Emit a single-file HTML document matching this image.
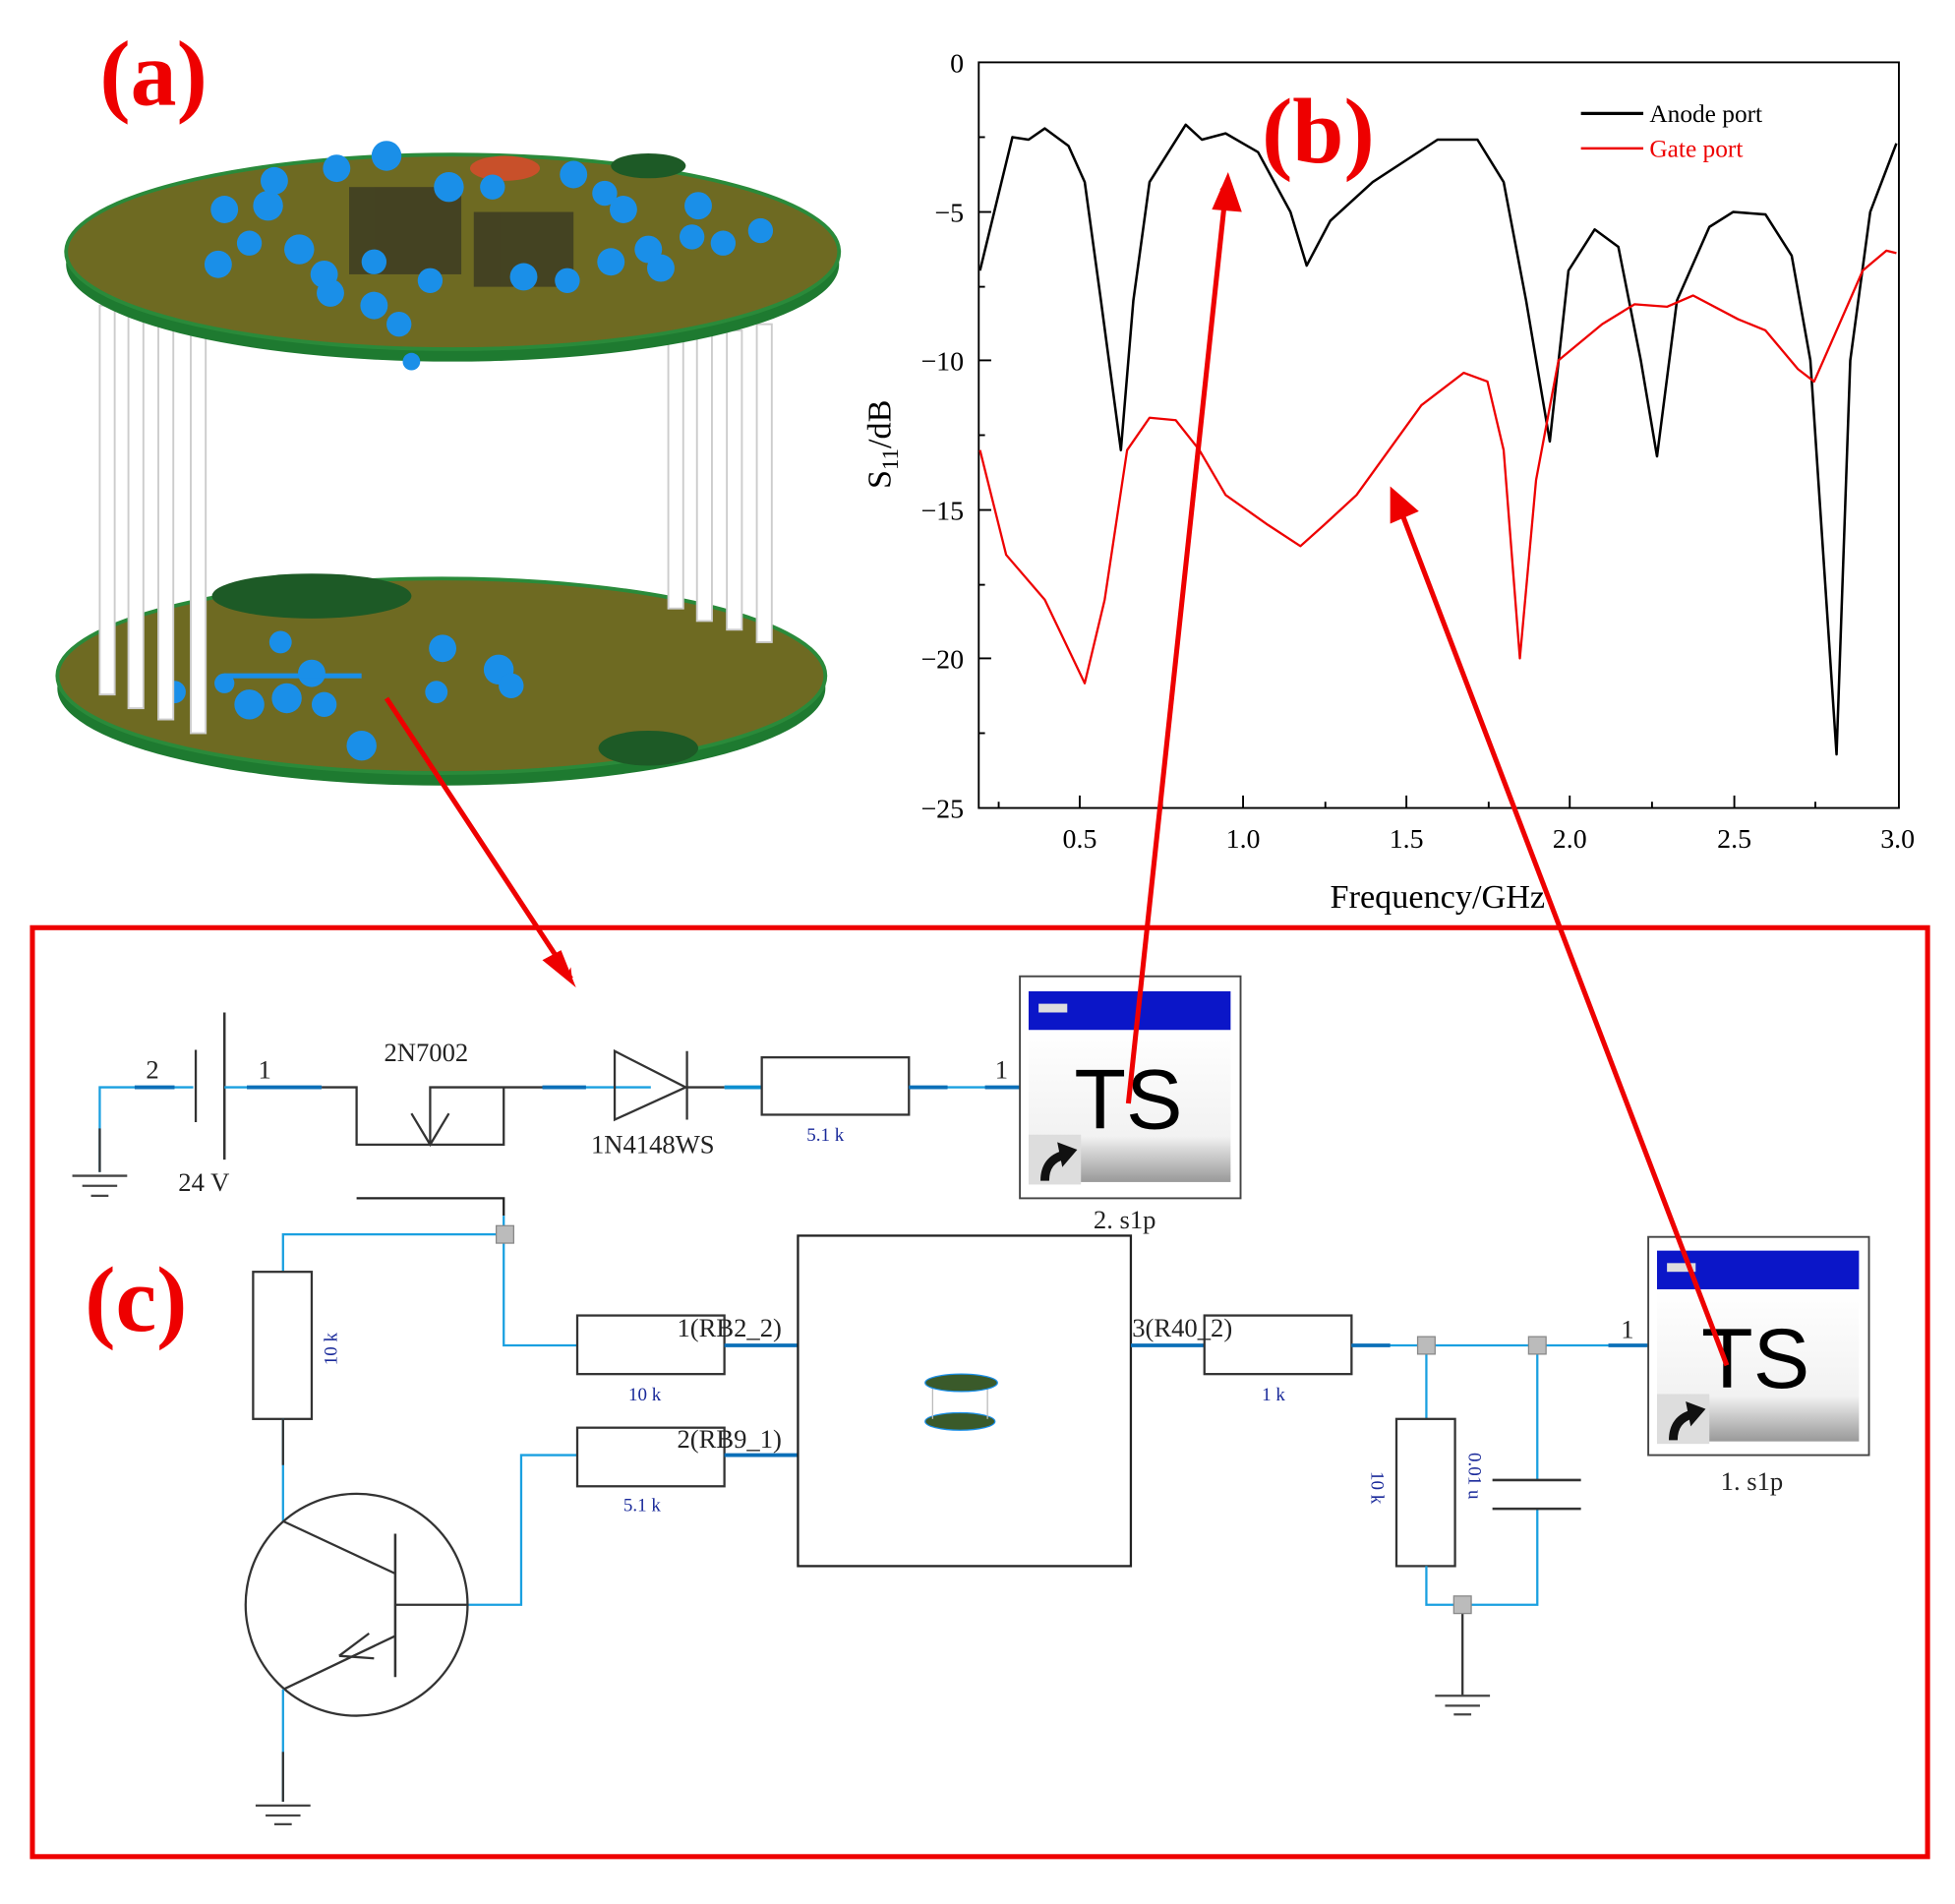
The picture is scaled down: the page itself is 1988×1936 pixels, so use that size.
<!DOCTYPE html>
<html><head><meta charset="utf-8"><style>
html,body{margin:0;padding:0;background:#fff}
svg{display:block}
text{font-family:"Liberation Serif",serif}
</style></head><body>
<svg width="1988" height="1936" viewBox="0 0 1568 1527" preserveAspectRatio="none" xmlns="http://www.w3.org/2000/svg">
<defs>
<linearGradient id="tsg" x1="0" y1="0" x2="0" y2="1"><stop offset="0" stop-color="#fff"/><stop offset="0.7" stop-color="#f2f2f2"/><stop offset="1" stop-color="#999"/></linearGradient>
<marker id="ah" markerWidth="10" markerHeight="10" refX="8" refY="5" orient="auto" markerUnits="userSpaceOnUse" viewBox="0 0 10 10"><path d="M0,0 L10,5 L0,10 L3,5 Z" fill="#e00"/></marker>
</defs>
<rect width="1568" height="1527" fill="#fff"/>
<!-- (a) PCB -->
<text x="80" y="84" font-size="74" font-weight="bold" fill="#e00">(a)</text>
<!-- bottom board -->
<ellipse cx="354" cy="552" rx="308" ry="78" fill="#1e7a30"/>
<ellipse cx="354" cy="542" rx="308" ry="78" fill="#6e6a22" stroke="#2a8a3a" stroke-width="3"/>
<ellipse cx="250" cy="478" rx="80" ry="18" fill="#1d5a26"/>
<ellipse cx="520" cy="600" rx="40" ry="14" fill="#1d5a26"/>
<g fill="#1a8fe8">
<circle cx="225" cy="515" r="9"/><circle cx="250" cy="540" r="11"/><circle cx="200" cy="565" r="12"/><circle cx="230" cy="560" r="12"/><circle cx="260" cy="565" r="10"/><circle cx="355" cy="520" r="11"/><circle cx="400" cy="537" r="12"/><circle cx="410" cy="550" r="10"/><circle cx="350" cy="555" r="9"/><circle cx="290" cy="598" r="12"/><circle cx="180" cy="548" r="8"/><circle cx="140" cy="555" r="9"/>
<rect x="180" y="540" width="110" height="4"/>
</g>
<!-- pillars -->
<g fill="#fff" stroke="#ccc" stroke-width="1.5">
<rect x="80" y="245" width="12" height="312"/><rect x="103" y="250" width="12" height="318"/><rect x="127" y="255" width="12" height="322"/><rect x="153" y="260" width="12" height="328"/>
<rect x="536" y="270" width="12" height="218"/><rect x="559" y="268" width="12" height="230"/><rect x="583" y="265" width="12" height="240"/><rect x="607" y="260" width="12" height="255"/>
</g>
<!-- top board -->
<ellipse cx="363" cy="212" rx="310" ry="78" fill="#1e7a30"/>
<ellipse cx="363" cy="202" rx="310" ry="78" fill="#6e6a22" stroke="#2a8a3a" stroke-width="3"/>
<ellipse cx="405" cy="135" rx="28" ry="10" fill="#c8502a"/>
<ellipse cx="520" cy="133" rx="30" ry="10" fill="#1d5a26"/>
<g fill="#222" opacity="0.55"><rect x="280" y="150" width="90" height="70"/><rect x="380" y="170" width="80" height="60"/></g>
<g fill="#1a8fe8">
<circle cx="270" cy="135" r="11"/><circle cx="310" cy="125" r="12"/><circle cx="220" cy="145" r="11"/><circle cx="215" cy="165" r="12"/><circle cx="180" cy="168" r="11"/><circle cx="200" cy="195" r="10"/><circle cx="175" cy="212" r="11"/><circle cx="240" cy="200" r="12"/><circle cx="260" cy="220" r="11"/><circle cx="265" cy="235" r="11"/><circle cx="300" cy="210" r="10"/><circle cx="300" cy="245" r="11"/><circle cx="320" cy="260" r="10"/><circle cx="345" cy="225" r="10"/><circle cx="360" cy="150" r="12"/><circle cx="395" cy="150" r="10"/><circle cx="460" cy="140" r="11"/><circle cx="485" cy="155" r="10"/><circle cx="500" cy="168" r="11"/><circle cx="560" cy="165" r="11"/><circle cx="555" cy="190" r="10"/><circle cx="580" cy="195" r="10"/><circle cx="610" cy="185" r="10"/><circle cx="520" cy="200" r="11"/><circle cx="490" cy="210" r="11"/><circle cx="530" cy="215" r="11"/><circle cx="420" cy="222" r="11"/><circle cx="455" cy="225" r="10"/><circle cx="330" cy="290" r="7"/>
</g>
<!-- (b) chart -->
<rect x="785" y="50" width="738" height="598" fill="none" stroke="#000" stroke-width="1.5"/>
<g stroke="#000" stroke-width="1.5">
<line x1="785" y1="170" x2="795" y2="170"/><line x1="785" y1="289" x2="795" y2="289"/><line x1="785" y1="409" x2="795" y2="409"/><line x1="785" y1="528" x2="795" y2="528"/>
<line x1="785" y1="110" x2="790" y2="110"/><line x1="785" y1="230" x2="790" y2="230"/><line x1="785" y1="349" x2="790" y2="349"/><line x1="785" y1="469" x2="790" y2="469"/><line x1="785" y1="588" x2="790" y2="588"/>
<line x1="866" y1="648" x2="866" y2="638"/><line x1="997" y1="648" x2="997" y2="638"/><line x1="1128" y1="648" x2="1128" y2="638"/><line x1="1259" y1="648" x2="1259" y2="638"/><line x1="1391" y1="648" x2="1391" y2="638"/>
<line x1="801" y1="648" x2="801" y2="643"/><line x1="932" y1="648" x2="932" y2="643"/><line x1="1063" y1="648" x2="1063" y2="643"/><line x1="1194" y1="648" x2="1194" y2="643"/><line x1="1325" y1="648" x2="1325" y2="643"/><line x1="1456" y1="648" x2="1456" y2="643"/>
</g>
<g font-size="22" text-anchor="end" fill="#000">
<text x="773" y="58">0</text><text x="773" y="178">−5</text><text x="773" y="297">−10</text><text x="773" y="417">−15</text><text x="773" y="536">−20</text><text x="773" y="656">−25</text>
</g>
<g font-size="22" text-anchor="middle" fill="#000">
<text x="866" y="680">0.5</text><text x="997" y="680">1.0</text><text x="1128" y="680">1.5</text><text x="1259" y="680">2.0</text><text x="1391" y="680">2.5</text><text x="1522" y="680">3.0</text>
</g>
<text x="1153" y="728" font-size="27" text-anchor="middle">Frequency/GHz</text>
<text transform="translate(714,392) rotate(-90)" font-size="27">S<tspan font-size="18" dy="6">11</tspan><tspan dy="-6">/dB</tspan></text>
<line x1="1268" y1="91" x2="1318" y2="91" stroke="#000" stroke-width="2.5"/>
<line x1="1268" y1="119" x2="1318" y2="119" stroke="#e00" stroke-width="2"/>
<text x="1323" y="98" font-size="20">Anode port</text>
<text x="1323" y="126" font-size="20" fill="#e00">Gate port</text>
<polyline fill="none" stroke="#000" stroke-width="2" stroke-linejoin="round" points="786,217 812,110 825,112 838,103 857,117 870,146 883,241 899,361 909,241 922,146 951,100 964,112 983,107 1009,122 1035,170 1048,213 1067,177 1101,146 1153,112 1185,112 1206,146 1224,241 1243,354 1258,217 1279,184 1298,198 1316,289 1329,366 1345,241 1371,182 1390,170 1416,172 1437,205 1452,289 1473,605 1484,289 1500,170 1521,115"/>
<polyline fill="none" stroke="#e00" stroke-width="1.8" stroke-linejoin="round" points="786,361 807,445 838,481 870,548 886,481 904,361 922,335 943,337 962,361 983,397 1017,421 1043,438 1062,421 1088,397 1114,361 1140,325 1174,299 1193,306 1206,361 1219,528 1232,385 1250,289 1285,260 1311,244 1337,246 1358,237 1394,256 1416,265 1442,296 1455,306 1473,265 1494,217 1513,201 1521,203"/>
<text x="1012" y="130" font-size="74" font-weight="bold" fill="#e00">(b)</text>
<!-- (c) circuit -->
<rect x="26" y="744" width="1520" height="745" fill="none" stroke="#e00" stroke-width="4"/>
<text x="68" y="1067" font-size="74" font-weight="bold" fill="#e00">(c)</text>
<g fill="none" stroke-width="1.8">
<path d="M80,940 V872 H155" stroke="#1aa0e0"/>
<line x1="80" y1="905" x2="80" y2="940" stroke="#333"/>
<line x1="108" y1="872" x2="140" y2="872" stroke="#0b6fb8" stroke-width="3"/>
<g stroke="#444"><line x1="58" y1="943" x2="102" y2="943"/><line x1="66" y1="951" x2="94" y2="951"/><line x1="73" y1="959" x2="87" y2="959"/></g>
<line x1="157" y1="842" x2="157" y2="900" stroke="#333"/>
<line x1="180" y1="812" x2="180" y2="930" stroke="#333" stroke-width="2"/>
<line x1="180" y1="872" x2="258" y2="872" stroke="#1aa0e0"/>
<line x1="198" y1="872" x2="258" y2="872" stroke="#0b6fb8" stroke-width="3"/>
<path d="M258,872 H286 V918 H404 V872 H345 V918 M330,893 L345,918 L360,893 M404,872 H435" stroke="#333"/>
<line x1="435" y1="872" x2="522" y2="872" stroke="#1aa0e0"/>
<line x1="435" y1="872" x2="470" y2="872" stroke="#0b6fb8" stroke-width="3"/>
<path d="M493,843 V898 L550,872 Z" stroke="#333"/>
<line x1="551" y1="843" x2="551" y2="898" stroke="#333"/>
<line x1="551" y1="872" x2="581" y2="872" stroke="#333"/>
<line x1="581" y1="872" x2="611" y2="872" stroke="#0b8fd0" stroke-width="3"/>
<rect x="611" y="848" width="118" height="46" stroke="#333"/>
<line x1="729" y1="872" x2="818" y2="872" stroke="#1aa0e0"/>
<line x1="729" y1="872" x2="760" y2="872" stroke="#0b6fb8" stroke-width="3"/>
<line x1="790" y1="872" x2="818" y2="872" stroke="#0b6fb8" stroke-width="3"/>
<path d="M286,961 H404 V975" stroke="#222"/>
<path d="M404,975 V1079 H463" stroke="#1aa0e0"/>
<path d="M227,1020 V990 H405" stroke="#1aa0e0"/>
<rect x="203" y="1020" width="47" height="118" stroke="#333"/>
<line x1="227" y1="1138" x2="227" y2="1220" stroke="#1aa0e0"/>
<line x1="227" y1="1138" x2="227" y2="1175" stroke="#333"/>
<rect x="463" y="1055" width="118" height="47" stroke="#333"/>
<line x1="581" y1="1079" x2="640" y2="1079" stroke="#0b6fb8" stroke-width="3"/>
<path d="M375,1287 H418 V1167 H463" stroke="#1aa0e0"/>
<rect x="463" y="1145" width="118" height="47" stroke="#333"/>
<line x1="581" y1="1167" x2="640" y2="1167" stroke="#0b6fb8" stroke-width="3"/>
<rect x="640" y="991" width="267" height="265" stroke="#222"/>
<circle cx="286" cy="1287" r="89" stroke="#333"/>
<line x1="317" y1="1230" x2="317" y2="1345" stroke="#333" stroke-width="2"/>
<line x1="317" y1="1287" x2="375" y2="1287" stroke="#333"/>
<path d="M227,1220 L317,1262 M317,1312 L227,1355 M272,1328 L296,1310 M272,1328 L300,1330" stroke="#333"/>
<line x1="227" y1="1355" x2="227" y2="1445" stroke="#1aa0e0"/>
<line x1="227" y1="1405" x2="227" y2="1445" stroke="#333"/>
<g stroke="#444"><line x1="205" y1="1448" x2="249" y2="1448"/><line x1="213" y1="1456" x2="241" y2="1456"/><line x1="220" y1="1463" x2="234" y2="1463"/></g>
<line x1="907" y1="1079" x2="966" y2="1079" stroke="#0b6fb8" stroke-width="3"/>
<rect x="966" y="1055" width="118" height="47" stroke="#333"/>
<line x1="1084" y1="1079" x2="1322" y2="1079" stroke="#1aa0e0"/>
<line x1="1084" y1="1079" x2="1115" y2="1079" stroke="#0b6fb8" stroke-width="3"/>
<line x1="1290" y1="1079" x2="1322" y2="1079" stroke="#0b6fb8" stroke-width="3"/>
<line x1="1144" y1="1079" x2="1144" y2="1138" stroke="#1aa0e0"/>
<rect x="1120" y="1138" width="47" height="118" stroke="#333"/>
<path d="M1144,1256 V1287 H1233 V1210" stroke="#1aa0e0"/>
<line x1="1233" y1="1079" x2="1233" y2="1187" stroke="#1aa0e0"/>
<line x1="1197" y1="1187" x2="1268" y2="1187" stroke="#333" stroke-width="2"/>
<line x1="1197" y1="1210" x2="1268" y2="1210" stroke="#333" stroke-width="2"/>
<line x1="1173" y1="1287" x2="1173" y2="1360" stroke="#333"/>
<g stroke="#444"><line x1="1151" y1="1360" x2="1195" y2="1360"/><line x1="1159" y1="1368" x2="1187" y2="1368"/><line x1="1166" y1="1375" x2="1180" y2="1375"/></g>
</g>
<g fill="#bbb" stroke="#888" stroke-width="1"><rect x="398" y="983" width="14" height="14"/><rect x="1137" y="1072" width="14" height="14"/><rect x="1226" y="1072" width="14" height="14"/><rect x="1166" y="1280" width="14" height="14"/></g>
<ellipse cx="770" cy="1140" rx="28" ry="7" fill="#3a5a2a" stroke="#1a8fe8"/>
<g stroke="#bbb"><line x1="748" y1="1112" x2="748" y2="1138"/><line x1="792" y1="1112" x2="792" y2="1138"/></g>
<ellipse cx="771" cy="1109" rx="29" ry="7" fill="#3a5a2a" stroke="#1a8fe8"/>
<g>
<rect x="818" y="783" width="177" height="178" fill="#fff" stroke="#444" stroke-width="1.5"/>
<rect x="825" y="825" width="162" height="123" fill="url(#tsg)"/>
<rect x="825" y="795" width="162" height="31" fill="#0b16c8"/>
<rect x="833" y="805" width="23" height="7" fill="#ddd"/>
<text x="905" y="905" font-size="68" text-anchor="middle" fill="#000" style="font-family:'Liberation Sans',sans-serif">TS</text>
<rect x="825" y="910" width="42" height="40" fill="#ddd"/>
<path d="M838,947 Q838,930 854,926" stroke="#111" stroke-width="7" fill="none"/>
<path d="M848,916 L864,922 L852,936 Z" fill="#111"/>
</g>
<g>
<rect x="1322" y="992" width="177" height="175" fill="#fff" stroke="#444" stroke-width="1.5"/>
<rect x="1329" y="1034" width="162" height="122" fill="url(#tsg)"/>
<rect x="1329" y="1003" width="162" height="31" fill="#0b16c8"/>
<rect x="1337" y="1013" width="23" height="7" fill="#ddd"/>
<text x="1408" y="1113" font-size="68" text-anchor="middle" fill="#000" style="font-family:'Liberation Sans',sans-serif">TS</text>
<rect x="1329" y="1118" width="42" height="40" fill="#ddd"/>
<path d="M1342,1155 Q1342,1138 1358,1134" stroke="#111" stroke-width="7" fill="none"/>
<path d="M1352,1124 L1368,1130 L1356,1144 Z" fill="#111"/>
</g>
<g font-size="21" fill="#222">
<text x="117" y="865">2</text><text x="207" y="865">1</text><text x="143" y="955">24 V</text>
<text x="308" y="851">2N7002</text><text x="474" y="925">1N4148WS</text>
<text x="798" y="865">1</text>
<text x="877" y="985">2. s1p</text><text x="1380" y="1195">1. s1p</text>
<text x="543" y="1072">1(RB2_2)</text><text x="543" y="1161">2(RB9_1)</text>
<text x="908" y="1072">3(R40_2)</text><text x="1300" y="1073">1</text>
</g>
<g font-size="15" fill="#1a2a9a" style="font-family:'Liberation Mono',monospace">
<text x="647" y="915">5.1 k</text><text x="504" y="1123">10 k</text><text x="500" y="1212">5.1 k</text><text x="1012" y="1123">1 k</text>
<text transform="translate(270,1095) rotate(-90)">10 k</text>
<text transform="translate(1100,1180) rotate(90)">10 k</text>
<text transform="translate(1178,1165) rotate(90)">0.01 u</text>
</g>
<g stroke="#e00" stroke-width="4" fill="none">
<line x1="310" y1="560" x2="458" y2="785" marker-end="url(#ah)"/>
<line x1="905" y1="885" x2="984" y2="145" marker-end="url(#ah)"/>
<line x1="1385" y1="1095" x2="1118" y2="395" marker-end="url(#ah)"/>
</g>
<g fill="#e00">
<path d="M462,792 L435,770 L450,762 Z"/>
<path d="M985,138 L972,168 L996,170 Z"/>
<path d="M1115,390 L1115,420 L1138,410 Z"/>
</g>
</svg>
</body></html>
